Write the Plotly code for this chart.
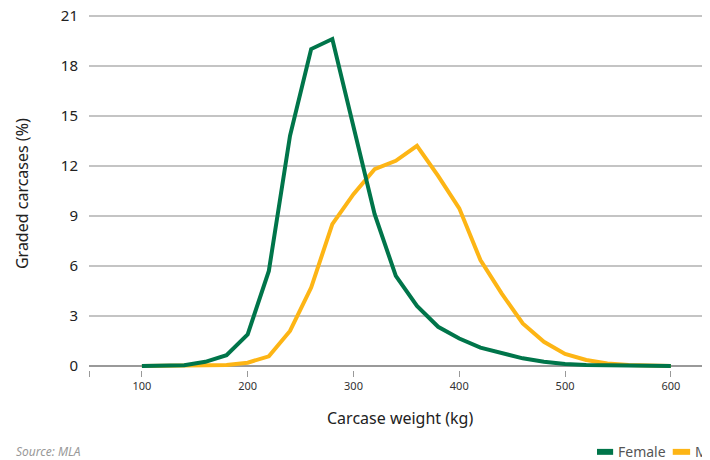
import plotly.graph_objects as go

# carcase weight (kg)
weights = [100, 120, 140, 160, 180, 200, 220, 240, 260, 280, 300, 320, 340, 360, 380,
           400, 420, 440, 460, 480, 500, 520, 540, 560, 580, 600]

# graded carcases (%)
female = [0.0, 0.0, 0.05, 0.25, 0.65, 1.9, 5.7, 13.8, 19.0, 19.6, 14.4, 9.1, 5.4, 3.6, 2.35,
          1.65, 1.1, 0.8, 0.46, 0.26, 0.12, 0.06, 0.03, 0.01, 0.0, 0.0]
male = [0.0, 0.0, 0.0, 0.02, 0.06, 0.2, 0.58, 2.1, 4.7, 8.5, 10.3, 11.8, 12.3, 13.2, 11.4,
        9.45, 6.35, 4.35, 2.55, 1.45, 0.72, 0.36, 0.15, 0.06, 0.02, 0.0]

x_ticks = [100, 200, 300, 400, 500, 600]
y_ticks = [0, 3, 6, 9, 12, 15, 18, 21]
x_start = 50

GREEN = "#00754A"
YELLOW = "#FDB515"
FONT = "Noto Sans"

fig = go.Figure()
# male drawn first so the female line sits on top
fig.add_trace(go.Scatter(x=weights, y=male, mode="lines", name="Male",
                         line=dict(color=YELLOW, width=4)))
fig.add_trace(go.Scatter(x=weights, y=female, mode="lines", name="Female",
                         line=dict(color=GREEN, width=4)))

# the page body has an 8px margin, so the figure is sized 8px smaller
fig.update_layout(
    width=702, height=452,
    margin=dict(l=81, r=0, t=1, b=90, autoexpand=False),
    plot_bgcolor="white", paper_bgcolor="white",
    font=dict(family=FONT, color="#222"),
    showlegend=False,
    xaxis=dict(range=[x_start, 637], tickvals=[x_start] + x_ticks,
               ticktext=[""] + [str(v) for v in x_ticks],
               ticks="outside", ticklen=6,
               tickcolor="#999", showgrid=False, zeroline=False, automargin=False,
               showline=False, tickfont=dict(size=11, color="#333")),
    yaxis=dict(range=[-0.24, 21.4], tickvals=y_ticks, showgrid=True, automargin=False,
               gridcolor="#c4c4c4", gridwidth=1.5, zeroline=True, zerolinecolor="#999",
               zerolinewidth=1.5, showline=False, ticks="", ticklabelstandoff=10,
               ticklabeloverflow="allow",
               tickfont=dict(size=15, color="#222")),
)

# axis titles
fig.add_annotation(text="Carcase weight (kg)", xref="paper", yref="paper",
                   x=0.5, y=-0.133, xanchor="center", yanchor="middle", showarrow=False,
                   font=dict(size=16, color="#222"))
fig.add_annotation(text="Graded carcases (%)", xref="paper", yref="paper", textangle=-90,
                   x=-0.108, y=0.49, xanchor="center", yanchor="middle", showarrow=False,
                   font=dict(size=16, color="#222"))

fig.add_annotation(text="<i>Source: MLA</i>", xref="paper", yref="paper",
                   x=-0.121, y=-0.227, xanchor="left", yanchor="middle", showarrow=False,
                   font=dict(size=12, color="#999"))

# legend (swatch + label), running off the right edge like the original
legend_items = [("Female", GREEN, 0.818, 0.844, 0.848),
                ("Male", YELLOW, 0.940, 0.968, 0.972)]
for label, colour, x0, x1, xt in legend_items:
    fig.add_shape(type="rect", xref="paper", yref="paper", x0=x0, x1=x1,
                  y0=-0.2185, y1=-0.235, fillcolor=colour, line_width=0)
    fig.add_annotation(text=label, xref="paper", yref="paper", x=xt, y=-0.227,
                       xanchor="left", yanchor="middle", showarrow=False,
                       font=dict(size=14, color="#555"))

fig.write_html("out.html")
